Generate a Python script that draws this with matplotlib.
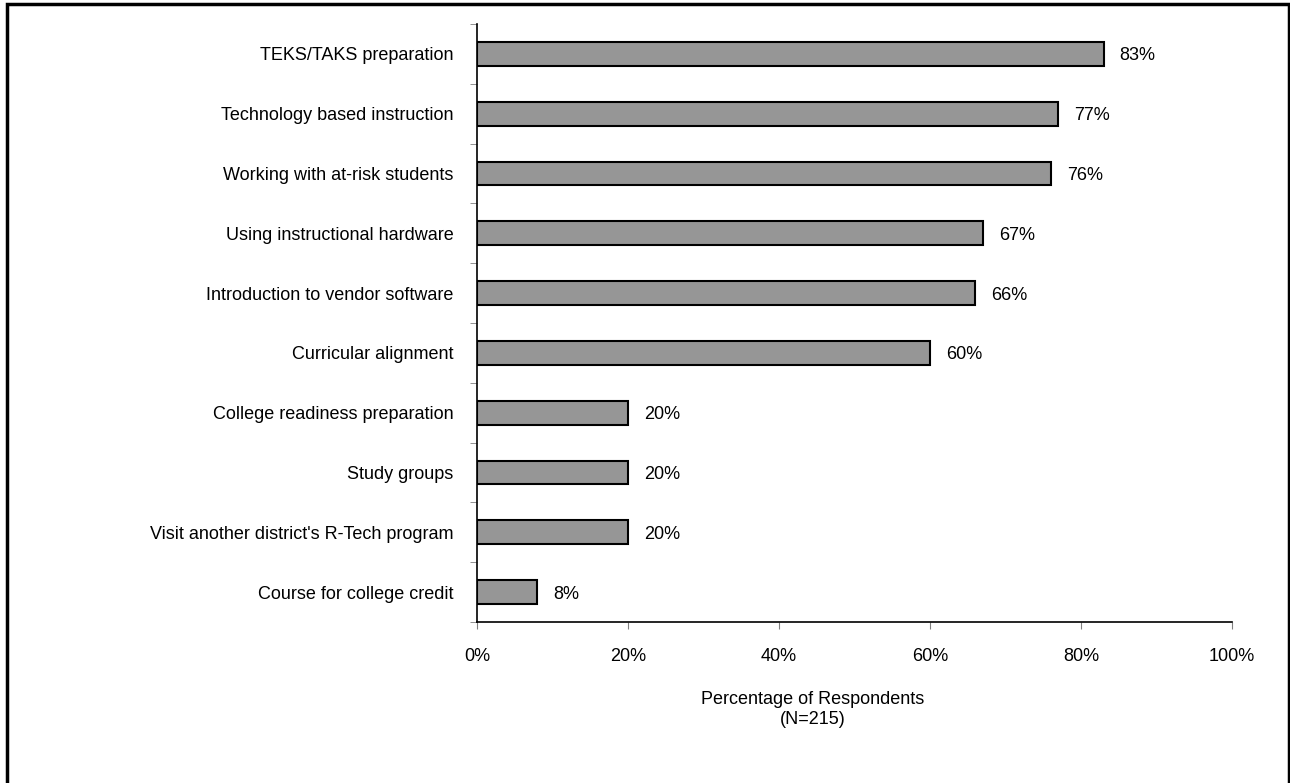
import matplotlib.pyplot as plt
from matplotlib.patches import Rectangle

plt.rcParams['font.family'] = ['Liberation Sans', 'DejaVu Sans']

# Actividades de formación y porcentaje de encuestados
categories = [
    'TEKS/TAKS preparation',
    'Technology based instruction',
    'Working with at-risk students',
    'Using instructional hardware',
    'Introduction to vendor software',
    'Curricular alignment',
    'College readiness preparation',
    'Study groups',
    "Visit another district's R-Tech program",
    'Course for college credit',
]
percentages = [83, 77, 76, 67, 66, 60, 20, 20, 20, 8]
x_ticks = [0, 20, 40, 60, 80, 100]

fig = plt.figure(figsize=(12.9, 7.83), dpi=100)
ax = fig.add_axes([477 / 1290, 1 - 622 / 783, 755 / 1290, 598 / 783])

pos = list(range(len(categories)))
ax.barh(pos, percentages, height=0.4, color='#969696', edgecolor='black', linewidth=1.5)
for p, v in zip(pos, percentages):
    ax.text(v + 2.1, p, f'{v}%', va='center_baseline', ha='left', fontsize=13)

ax.set_xlim(0, 100)
ax.set_ylim(len(categories) - 0.5, -0.5)
ax.set_xticks(x_ticks)
ax.set_xticklabels([f'{t}%' for t in x_ticks], fontsize=13)
ax.set_yticks(pos)
ax.set_yticklabels(categories, fontsize=13)
ax.set_yticks([i - 0.5 for i in range(len(categories) + 1)], minor=True)
ax.tick_params(axis='y', which='major', length=0, pad=17)
ax.tick_params(axis='y', which='minor', length=5, color='#808080', direction='out')
ax.tick_params(axis='x', length=5, color='#808080', pad=14)

for s in ['top', 'right']:
    ax.spines[s].set_visible(False)
for s in ['left', 'bottom']:
    ax.spines[s].set_linewidth(1.2)

fig.text(813 / 1290, 1 - 699 / 783, 'Percentage of Respondents', ha='center', va='center', fontsize=13)
fig.text(813 / 1290, 1 - 719 / 783, '(N=215)', ha='center', va='center', fontsize=13)

# Marco alrededor de toda la figura
fig.patches.append(Rectangle((7 / 1290, -0.05), 1282 / 1290, 1.05 - 4 / 783,
                             transform=fig.transFigure, fill=False,
                             edgecolor='black', linewidth=2.5))

fig.savefig('out.png', dpi=100)
